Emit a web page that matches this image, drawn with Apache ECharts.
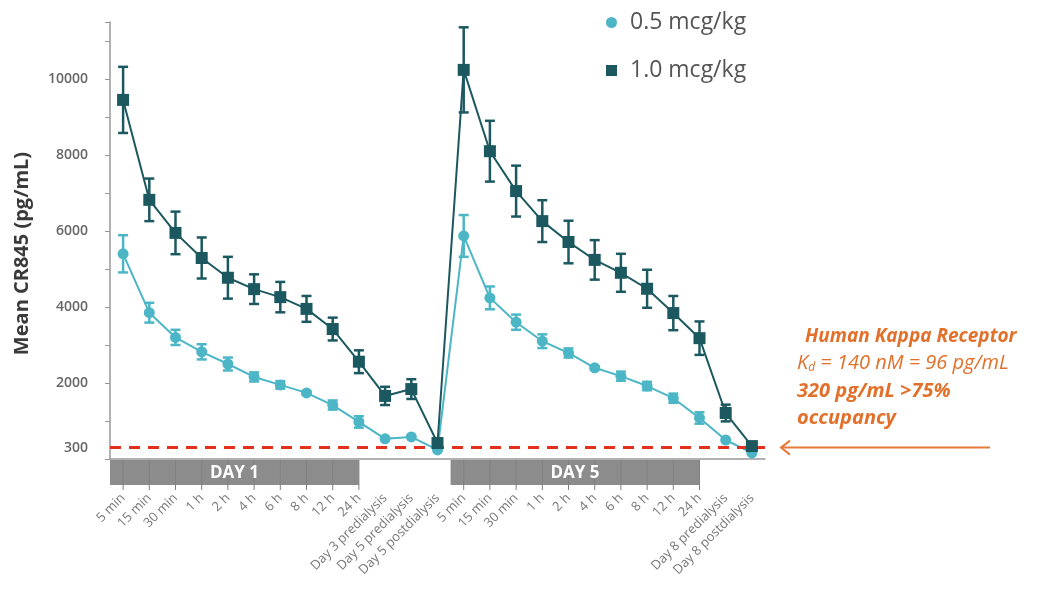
<!DOCTYPE html>
<html>
<head>
<meta charset="utf-8">
<script src="https://cdn.jsdelivr.net/npm/echarts@6/dist/echarts.min.js"></script>
<style>
html,body{margin:0;padding:0;background:#fff;}
#c{width:1042px;height:589px;}
</style>
</head>
<body>
<div id="c"></div>
<script>
var categories = ['5 min','15 min','30 min','1 h','2 h','4 h','6 h','8 h','12 h','24 h',
  'Day 3 predialysis','Day 5 predialysis','Day 5 postdialysis',
  '5 min','15 min','30 min','1 h','2 h','4 h','6 h','8 h','12 h','24 h',
  'Day 8 predialysis','Day 8 postdialysis'];

var low05  = [5400,3850,3200,2820,2500,2160,1950,1740,1420,975,530,580,240,
              5870,4240,3600,3100,2790,2400,2180,1920,1600,1080,500,160];
var err05  = [490,260,200,200,170,120,100,40,120,150,0,0,0,
              550,300,200,180,120,40,120,110,120,150,0,0];
var high10 = [9450,6820,5950,5290,4770,4470,4260,3950,3420,2560,1660,1840,420,
              10240,8100,7050,6260,5710,5240,4900,4480,3840,3180,1210,340];
var err10  = [870,560,560,540,550,390,400,340,300,300,240,260,60,
              1120,800,670,550,560,520,500,500,450,440,220,60];

var dayBands = [[0,9,'DAY 1'],[13,22,'DAY 5']];
var thresholdValue = 300;
var seriesNames = ['0.5 mcg/kg','1.0 mcg/kg'];

var cLight = '#4cb6c6';
var cDark = '#1b5860';
var cOrange = '#e2702a';

function errData(mean, err){
  return mean.map(function(m,i){ return [i, m-err[i], m+err[i]]; });
}
function errRender(color){
  return function(params, api){
    var x = api.value(0);
    var lo = api.coord([x, api.value(1)]);
    var hi = api.coord([x, api.value(2)]);
    if (Math.abs(lo[1]-hi[1]) < 2) return null;
    var w = 5;
    var st = {stroke: color, lineWidth: 2.5};
    return {type:'group', children:[
      {type:'line', shape:{x1:lo[0],y1:lo[1],x2:hi[0],y2:hi[1]}, style:st},
      {type:'line', shape:{x1:lo[0]-w,y1:lo[1],x2:lo[0]+w,y2:lo[1]}, style:st},
      {type:'line', shape:{x1:hi[0]-w,y1:hi[1],x2:hi[0]+w,y2:hi[1]}, style:st}
    ]};
  };
}

var chart = echarts.init(document.getElementById('c'));
var option = {
  animation: false,
  backgroundColor: '#fff',
  textStyle: {fontFamily: 'Open Sans'},
  grid: {left: 110, right: 277, top: 22, bottom: 130},
  legend: {
    orient: 'vertical', left: 606, top: 11, itemWidth: 11, itemHeight: 11, itemGap: 25,
    padding: 0,
    textStyle: {fontSize: 23, color: '#555', fontFamily: 'Open Sans', padding: [0,0,0,8]},
    data: [{name: seriesNames[0], icon: 'circle'}, {name: seriesNames[1], icon: 'rect'}]
  },
  xAxis: {
    type: 'category', data: categories, boundaryGap: true,
    axisLine: {lineStyle: {color: '#999', width: 1.5}},
    axisTick: {alignWithLabel: true, length: 31, lineStyle: {color: '#aaa', width: 1.5}},
    axisLabel: {rotate: 45, fontSize: 13, color: '#777', margin: 37, interval: 0}
  },
  yAxis: {
    type: 'value', min: 0, max: 11500, interval: 1000,
    name: 'Mean CR845 (pg/mL)', nameLocation: 'middle', nameGap: 78,
    nameTextStyle: {fontSize: 20, fontWeight: 'bold', color: '#3a3a3a', padding: [0, 26, 0, 0]},
    axisLine: {show: true, lineStyle: {color: '#999', width: 1.5}},
    axisTick: {show: true, length: 5, lineStyle: {color: '#999'}},
    splitLine: {show: false},
    axisLabel: {
      fontSize: 14, fontWeight: 600, color: '#666', margin: 22,
      formatter: function(v){ return (v >= 2000 && v % 2000 === 0) ? String(v) : ''; }
    }
  },
  series: [
    {
      type: 'custom', name: 'days', z: 1, silent: true,
      data: dayBands,
      encode: {x: [0,1]},
      renderItem: function(params, api){
        var s = api.value(0), e = api.value(1);
        var p0 = api.coord([s, 0]);
        var p1 = api.coord([e, 0]);
        var bw = api.size([1, 0])[0];
        var x0 = p0[0] - bw/2;
        var kids = [
          {type:'rect', shape:{x:x0, y:p0[1]+1, width:p1[0]-x0, height:25}, style:{fill:'#8c8c8c'}}
        ];
        for (var i = s; i <= e; i++) {
          var pc = api.coord([i, 0]);
          kids.push({type:'line', shape:{x1:pc[0], y1:p0[1]+1, x2:pc[0], y2:p0[1]+31}, style:{stroke:'#808080', lineWidth:1}});
        }
        kids.push({type:'text', style:{text: dayBands[params.dataIndex][2], x:(x0+p1[0])/2, y:p0[1]+14,
            textAlign:'center', textVerticalAlign:'middle', fill:'#fff', font:'bold 17px "Open Sans"'}});
        return {type:'group', children: kids};
      }
    },
    {
      type: 'custom', name: 'err05', z: 3, silent: true,
      data: errData(low05, err05), encode: {x: 0, y: [1,2]},
      renderItem: errRender(cLight)
    },
    {
      type: 'line', name: seriesNames[0], data: low05, z: 4,
      symbol: 'circle', symbolSize: 11, itemStyle: {color: cLight},
      lineStyle: {color: cLight, width: 2},
      markLine: {
        silent: true, symbol: 'none',
        lineStyle: {color: '#e3301c', width: 3, type: [11, 8]},
        label: {position: 'start', formatter: String(thresholdValue), fontSize: 14, fontWeight: 600, color: '#666', distance: 22},
        data: [{yAxis: thresholdValue}]
      }
    },
    {
      type: 'custom', name: 'err10', z: 5, silent: true,
      data: errData(high10, err10), encode: {x: 0, y: [1,2]},
      renderItem: errRender(cDark)
    },
    {
      type: 'line', name: seriesNames[1], data: high10, z: 6,
      symbol: 'rect', symbolSize: 12, itemStyle: {color: cDark},
      lineStyle: {color: cDark, width: 2}
    }
  ]
};
chart.setOption(option);

var y300 = chart.convertToPixel({yAxisIndex: 0}, thresholdValue);
var boldItalic = 'italic bold 19px "Open Sans"';
chart.setOption({
  graphic: [
    {type:'text', left: 805, top: 327, style:{text:'Human Kappa Receptor', fill:cOrange, font: boldItalic}},
    {type:'text', left: 797, top: 353, style:{
      text:'{k|K}{d|d}{k| = 140 nM = 96 pg/mL}',
      fill: cOrange,
      rich:{k:{fontFamily:'Open Sans', fontStyle:'italic', fontSize:20, fill:cOrange},
            d:{fontFamily:'Open Sans', fontStyle:'italic', fontSize:12, fill:cOrange, verticalAlign:'bottom', padding:[10,0,0,0]}}
    }},
    {type:'text', left: 797, top: 381, style:{text:'320 pg/mL >75%', fill:cOrange, font: 'italic bold 20px "Open Sans"'}},
    {type:'text', left: 797, top: 408, style:{text:'occupancy', fill:cOrange, font: 'italic bold 20px "Open Sans"'}},
    {type:'line', shape:{x1:782, y1:y300, x2:990, y2:y300}, style:{stroke:'#e67a3a', lineWidth:2}},
    {type:'polyline', shape:{points:[[790,y300-7],[781,y300],[790,y300+7]]}, style:{stroke:'#e67a3a', lineWidth:2, fill:null}}
  ]
});
</script>
</body>
</html>
